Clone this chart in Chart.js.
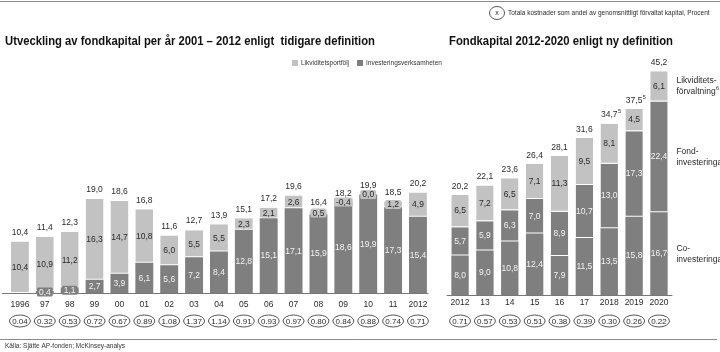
<!DOCTYPE html>
<html>
<head>
<meta charset="utf-8">
<script src="https://cdn.jsdelivr.net/npm/chart.js@4/dist/chart.umd.min.js"></script>
<style>
  html, body { margin: 0; padding: 0; background: #fff; }
  #wrap { position: relative; width: 720px; height: 352px; overflow: hidden; }
  canvas { position: absolute; top: 0; }
  #deco { left: 0; }
  #left { left: 0; }
  #right { left: 440px; }
</style>
</head>
<body>
<div id="wrap">
  <canvas id="deco" width="720" height="352"></canvas>
  <canvas id="left" width="440" height="352"></canvas>
  <canvas id="right" width="280" height="352"></canvas>
</div>
<script>
// Fund capital per year, old definition (billion SEK)
const oldYears = ['1996','97','98','99','00','01','02','03','04','05','06','07','08','09','10','11','2012'];
const investering = [null, 0.4, 1.1, 2.7, 3.9, 6.1, 5.6, 7.2, 8.4, 12.8, 15.1, 17.1, 15.9, 18.6, 19.9, 17.3, 15.4];
const likviditet  = [10.4, 10.9, 11.2, 16.3, 14.7, 10.8, 6.0, 5.5, 5.5, 2.3, 2.1, 2.6, 0.5, -0.4, 0.0, 1.2, 4.9];
const oldTotals   = [10.4, 11.4, 12.3, 19.0, 18.6, 16.8, 11.6, 12.7, 13.9, 15.1, 17.2, 19.6, 16.4, 18.2, 19.9, 18.5, 20.2];
const oldCosts    = ['0.04','0.32','0.53','0.72','0.67','0.89','1.08','1.37','1.14','0.91','0.93','0.97','0.80','0.84','0.88','0.74','0.71'];

// Fund capital 2012-2020, new definition
const newYears = ['2012','13','14','15','16','17','2018','2019','2020'];
const coInv    = [8.0, 9.0, 10.8, 12.4, 7.9, 11.5, 13.5, 15.8, 16.7];
const fondInv  = [5.7, 5.9, 6.3, 7.0, 8.9, 10.7, 13.0, 17.3, 22.4];
const likvForv = [6.5, 7.2, 6.5, 7.1, 11.3, 9.5, 8.1, 4.5, 6.1];
const newTotals = [20.2, 22.1, 23.6, 26.4, 28.1, 31.6, 34.7, 37.5, 45.2];
const newTotalNotes = ['', '', '', '', '', '', '5', '5', ''];
const newCosts = ['0.71','0.57','0.53','0.51','0.38','0.39','0.30','0.26','0.22'];

const LIGHT = '#c2c2c2';
const DARK = '#7f7f7f';
const TEXT = '#2a2a2a';
const FONT = '"Liberation Sans", Arial, sans-serif';

function fmt(v) { return v.toFixed(1).replace('.', ','); }

function roundRect(ctx, x, y, w, h, r) {
  ctx.beginPath();
  ctx.moveTo(x + r, y);
  ctx.lineTo(x + w - r, y);
  ctx.quadraticCurveTo(x + w, y, x + w, y + r);
  ctx.lineTo(x + w, y + h - r);
  ctx.quadraticCurveTo(x + w, y + h, x + w - r, y + h);
  ctx.lineTo(x + r, y + h);
  ctx.quadraticCurveTo(x, y + h, x, y + h - r);
  ctx.lineTo(x, y + r);
  ctx.quadraticCurveTo(x, y, x + r, y);
  ctx.closePath();
}

function plainLabel(ctx, x, y, text, color, size) {
  ctx.font = (size || 8.5) + 'px ' + FONT;
  ctx.fillStyle = color;
  ctx.textAlign = 'center';
  ctx.textBaseline = 'middle';
  ctx.fillText(text, x, y);
}

// segment label; thin segments get a small tag in the segment colour
function segLabel(ctx, x, y0, y1, text, fill, color) {
  const yc = (y0 + y1) / 2;
  if (Math.abs(y0 - y1) < 11) {
    ctx.font = '8.5px ' + FONT;
    const w = Math.max(ctx.measureText(text).width + 4, 15);
    const h = 9;
    ctx.fillStyle = fill;
    roundRect(ctx, x - w / 2, yc - h / 2, w, h, 1.5);
    ctx.fill();
  }
  plainLabel(ctx, x, yc + 0.5, text, color);
}

function costOval(ctx, x, y, text) {
  ctx.beginPath();
  ctx.ellipse(x, y, 10.5, 6, 0, 0, Math.PI * 2);
  ctx.fillStyle = '#fff';
  ctx.fill();
  ctx.lineWidth = 1;
  ctx.strokeStyle = '#555';
  ctx.stroke();
  plainLabel(ctx, x, y + 0.5, text, TEXT, 8);
}

function baseline(ctx, x0, x1, y) {
  ctx.beginPath();
  ctx.moveTo(x0, y + 0.5);
  ctx.lineTo(x1, y + 0.5);
  ctx.lineWidth = 1;
  ctx.strokeStyle = '#777';
  ctx.stroke();
}

// Labels, axis line, year ticks and cost ovals for the old-definition chart
const oldLabels = {
  id: 'oldLabels',
  afterDatasetsDraw(chart) {
    const ctx = chart.ctx;
    const xs = chart.scales.x, ys = chart.scales.y;
    const area = chart.chartArea;
    ctx.save();
    baseline(ctx, 2, area.right - 2, area.bottom);
    oldYears.forEach((yr, i) => {
      const x = xs.getPixelForValue(i);
      const d = investering[i];
      const base = d == null ? 0 : d;
      if (d != null) {
        segLabel(ctx, x, ys.getPixelForValue(0), ys.getPixelForValue(d), fmt(d), DARK, '#f2f2f2');
      }
      const l = likviditet[i];
      segLabel(ctx, x, ys.getPixelForValue(base), ys.getPixelForValue(base + l), fmt(l), LIGHT, TEXT);
      plainLabel(ctx, x, ys.getPixelForValue(oldTotals[i]) - 9, fmt(oldTotals[i]), TEXT);
      plainLabel(ctx, x, area.bottom + 12, yr, TEXT);
      costOval(ctx, x, 321, oldCosts[i]);
    });
    ctx.restore();
  }
};

// Labels, series captions, year ticks and cost ovals for the new-definition chart
const newLabels = {
  id: 'newLabels',
  afterDatasetsDraw(chart) {
    const ctx = chart.ctx;
    const xs = chart.scales.x, ys = chart.scales.y;
    const area = chart.chartArea;
    ctx.save();
    baseline(ctx, area.left - 1, area.right + 1, area.bottom);
    newYears.forEach((yr, i) => {
      const x = xs.getPixelForValue(i);
      const a = coInv[i], b = a + fondInv[i], c = b + likvForv[i];
      plainLabel(ctx, x, (ys.getPixelForValue(0) + ys.getPixelForValue(a)) / 2, fmt(coInv[i]), '#f2f2f2');
      plainLabel(ctx, x, (ys.getPixelForValue(a) + ys.getPixelForValue(b)) / 2, fmt(fondInv[i]), '#f2f2f2');
      plainLabel(ctx, x, (ys.getPixelForValue(b) + ys.getPixelForValue(c)) / 2, fmt(likvForv[i]), TEXT);
      const ty = ys.getPixelForValue(newTotals[i]) - 8.5;
      const t = fmt(newTotals[i]);
      plainLabel(ctx, x, ty, t, TEXT);
      if (newTotalNotes[i]) {
        ctx.font = '8.5px ' + FONT;
        const w = ctx.measureText(t).width;
        ctx.font = '5.5px ' + FONT;
        ctx.textAlign = 'left';
        ctx.fillText(newTotalNotes[i], x + w / 2 + 0.5, ty - 3);
      }
      plainLabel(ctx, x, area.bottom + 8, yr, TEXT);
      costOval(ctx, x, 321, newCosts[i]);
    });
    // captions beside the last bar
    const last = newYears.length - 1;
    const a = coInv[last], b = a + fondInv[last], c = b + likvForv[last];
    const cx = area.right + 5;
    const caption = (lines, yc, note) => {
      ctx.font = '8.5px ' + FONT;
      ctx.fillStyle = TEXT;
      ctx.textAlign = 'left';
      ctx.textBaseline = 'middle';
      ctx.fillText(lines[0], cx, yc - 5.5);
      ctx.fillText(lines[1], cx, yc + 5.5);
      if (note) {
        const w = ctx.measureText(lines[1]).width;
        ctx.font = '5.5px ' + FONT;
        ctx.fillText(note, cx + w + 0.5, yc + 2.5);
      }
    };
    caption(['Likviditets-', 'förvaltning'], (ys.getPixelForValue(b) + ys.getPixelForValue(c)) / 2, '6');
    caption(['Fond-', 'investeringar'], (ys.getPixelForValue(a) + ys.getPixelForValue(b)) / 2);
    caption(['Co-', 'investeringar'], (ys.getPixelForValue(0) + ys.getPixelForValue(a)) / 2);
    ctx.restore();
  }
};

const sepBorder = { top: 0, right: 0, bottom: 1, left: 0 };

new Chart(document.getElementById('left'), {
  type: 'bar',
  data: {
    labels: oldYears,
    datasets: [
      { label: 'Investeringsverksamheten', data: investering, backgroundColor: DARK, borderWidth: 0 },
      {
        label: 'Likviditetsportfölj',
        data: likviditet.map((l, i) => { const b = investering[i] || 0; return [b, b + l]; }),
        backgroundColor: LIGHT, borderColor: '#fff', borderWidth: sepBorder, borderSkipped: false
      }
    ]
  },
  options: {
    responsive: false,
    animation: false,
    layout: { padding: { left: 7.5, right: 9.6, top: 45.5, bottom: 59 } },
    datasets: { bar: { categoryPercentage: 1, barPercentage: 0.72 } },
    scales: {
      x: { display: false, stacked: true },
      y: { display: false, stacked: false, min: 0, max: 50 }
    },
    plugins: { legend: { display: false }, tooltip: { enabled: false } }
  },
  plugins: [oldLabels]
});

new Chart(document.getElementById('right'), {
  type: 'bar',
  data: {
    labels: newYears,
    datasets: [
      { label: 'Co-investeringar', data: coInv, backgroundColor: DARK, borderWidth: 0 },
      { label: 'Fond-investeringar', data: fondInv, backgroundColor: DARK, borderColor: '#fff', borderWidth: sepBorder, borderSkipped: false },
      { label: 'Likviditetsförvaltning', data: likvForv, backgroundColor: LIGHT, borderColor: '#fff', borderWidth: sepBorder, borderSkipped: false }
    ]
  },
  options: {
    responsive: false,
    animation: false,
    layout: { padding: { left: 7.6, right: 48.6, top: 47.5, bottom: 57 } },
    datasets: { bar: { categoryPercentage: 1, barPercentage: 0.7 } },
    scales: {
      x: { display: false, stacked: true },
      y: { display: false, stacked: true, min: 0, max: 50 }
    },
    plugins: { legend: { display: false }, tooltip: { enabled: false } }
  },
  plugins: [newLabels]
});

// Titles, legend, rules and source line
(function drawDeco() {
  const c = document.getElementById('deco');
  const ctx = c.getContext('2d');
  ctx.strokeStyle = '#8a8a8a';
  ctx.lineWidth = 1;
  ctx.beginPath(); ctx.moveTo(0, 1.5); ctx.lineTo(720, 1.5); ctx.stroke();
  ctx.beginPath(); ctx.moveTo(0, 339.5); ctx.lineTo(717, 339.5); ctx.stroke();

  // cost legend
  ctx.beginPath();
  ctx.ellipse(497, 13, 7.5, 6.5, 0, 0, Math.PI * 2);
  ctx.strokeStyle = '#555';
  ctx.stroke();
  ctx.fillStyle = TEXT;
  ctx.textAlign = 'center';
  ctx.textBaseline = 'middle';
  ctx.font = '7px ' + FONT;
  ctx.fillText('x', 497, 13);
  ctx.textAlign = 'left';
  ctx.font = '6.5px ' + FONT;
  ctx.fillText('Totala kostnader som andel av genomsnittligt förvaltat kapital, Procent', 508, 13, 209);

  // titles
  ctx.fillStyle = '#111';
  ctx.font = 'bold 12px ' + FONT;
  ctx.fillText('Utveckling av fondkapital per år 2001 \u2013 2012 enligt  tidigare definition', 5, 42, 370);
  ctx.fillText('Fondkapital 2012-2020 enligt ny definition', 449, 42, 224);

  // series legend
  ctx.fillStyle = LIGHT; ctx.fillRect(292, 60, 6, 6);
  ctx.fillStyle = DARK; ctx.fillRect(357, 60, 6, 6);
  ctx.fillStyle = '#333';
  ctx.font = '6.5px ' + FONT;
  ctx.fillText('Likviditetsportfölj', 301, 63.5, 50);
  ctx.fillText('Investeringsverksamheten', 366, 63.5, 77);

  // source
  ctx.fillText('Källa: Sjätte AP-fonden; McKinsey-analys', 5, 346, 122);
})();
</script>
</body>
</html>
